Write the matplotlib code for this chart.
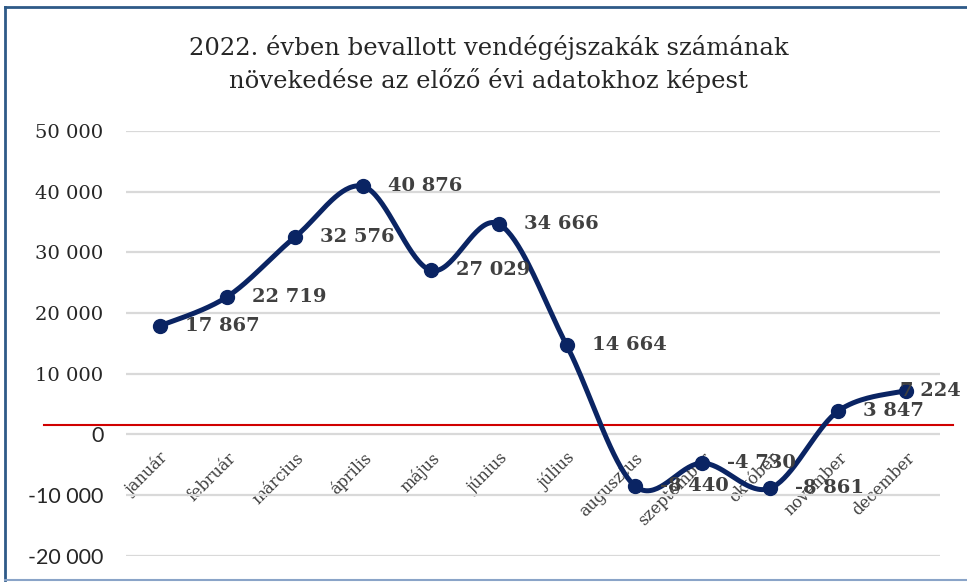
import numpy as np
import matplotlib
matplotlib.use("Agg")
import matplotlib.pyplot as plt
from matplotlib.lines import Line2D
from matplotlib.transforms import offset_copy

months = ["január", "február", "március", "április", "május", "június",
          "július", "augusztus", "szeptember", "október", "november", "december"]
values = [17867, 22719, 32576, 40876, 27029, 34666, 14664, -8440, -4730, -8861, 3847, 7224]
yticks = [-20000, -10000, 0, 10000, 20000, 30000, 40000, 50000]
ref_line = 1500
title = "2022. évben bevallott vendégéjszakák számának\nnövekedése az előző évi adatokhoz képest"

NAVY = "#0A2463"
GRID = "#D9D9D9"
TXT = "#262626"
LBL = "#404040"


def catmull_rom(x, y, n=40):
    x = np.asarray(x, float)
    y = np.asarray(y, float)
    px = np.concatenate([[x[0]], x, [x[-1]]])
    py = np.concatenate([[y[0]], y, [y[-1]]])
    xs, ys = [], []
    t = np.linspace(0, 1, n)
    for i in range(1, len(px) - 2):
        p0 = np.array([px[i], py[i]])
        p3 = np.array([px[i + 1], py[i + 1]])
        c1 = p0 + (np.array([px[i + 1], py[i + 1]]) - np.array([px[i - 1], py[i - 1]])) / 6
        c2 = p3 - (np.array([px[i + 2], py[i + 2]]) - np.array([px[i], py[i]])) / 6
        b = ((1 - t) ** 3)[:, None] * p0 + (3 * (1 - t) ** 2 * t)[:, None] * c1 \
            + (3 * (1 - t) * t ** 2)[:, None] * c2 + (t ** 3)[:, None] * p3
        xs.append(b[:, 0])
        ys.append(b[:, 1])
    return np.concatenate(xs), np.concatenate(ys)


fig = plt.figure(figsize=(9.67, 5.85), dpi=100)
ax = fig.add_axes([0.130, 0.050, 0.842, 0.726])

x = np.arange(len(months))
sx, sy = catmull_rom(x, values)
ax.plot(sx, sy, color=NAVY, lw=3.6, solid_capstyle="round", zorder=4)
ax.plot(x, values, "o", color=NAVY, ms=10, zorder=5)

ax.set_xlim(-0.5, len(months) - 0.5)
ax.set_ylim(yticks[0], yticks[-1])
ax.set_yticks(yticks)
ax.yaxis.grid(True, color=GRID, lw=1.6)
ax.set_axisbelow(True)
for s in ax.spines.values():
    s.set_visible(False)
ax.spines["bottom"].set_position(("data", 0))

ylabels = [f"{v:,}".replace(",", " ") for v in yticks]
ax.set_yticklabels(ylabels)
ax.tick_params(axis="y", length=0, pad=16, labelcolor=TXT)
for lab, v in zip(ax.get_yticklabels(), yticks):
    if v <= 0:
        lab.set_fontfamily("Lato")
        lab.set_fontsize(15.5)
    else:
        lab.set_fontfamily("DejaVu Serif")
        lab.set_fontsize(14)

ax.set_xticks(x)
ax.set_xticklabels(months, rotation=45, ha="right", rotation_mode="anchor",
                   fontfamily="DejaVu Serif", fontsize=11.5, color=LBL)
ax.tick_params(axis="x", length=0, pad=11)

# red reference line extending beyond plot area
ax.axhline(ref_line, xmin=-0.1, xmax=1.016, color="#D00000", lw=1.5,
           clip_on=False, zorder=3)

# data labels
for i, v in enumerate(values):
    dx = -4 if i == len(values) - 1 else 18
    tr = offset_copy(ax.transData, fig=fig, x=dx, y=0, units="points")
    ax.text(i, v, f"{v:,}".replace(",", " "), transform=tr, ha="left", va="center",
            fontfamily="DejaVu Serif", fontweight="bold", fontsize=14, color=LBL, zorder=6)

fig.text(0.505, 0.890, title, ha="center", va="center", fontfamily="DejaVu Serif",
         fontsize=17.5, color=TXT, linespacing=1.4)

# frame
fig.add_artist(Line2D([5 / 967, 5 / 967], [1 - 7 / 585, 1 - 580 / 585],
                      transform=fig.transFigure, color="#2E5A88", lw=2))
fig.add_artist(Line2D([5 / 967, 1.0], [1 - 7 / 585, 1 - 7 / 585],
                      transform=fig.transFigure, color="#2E5A88", lw=2))
fig.add_artist(Line2D([5 / 967, 1.0], [1 - 580 / 585, 1 - 580 / 585],
                      transform=fig.transFigure, color="#8AA4C8", lw=1.5))

fig.savefig("out.png", dpi=100)
